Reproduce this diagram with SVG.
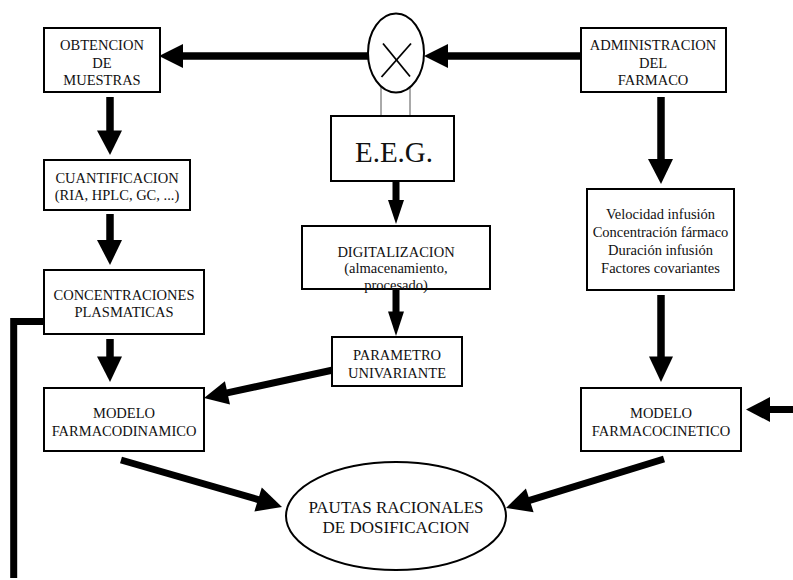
<svg xmlns="http://www.w3.org/2000/svg" width="793" height="580" viewBox="0 0 793 580">
<style>
.box{fill:#fff;stroke:#000;stroke-width:2}
.lbl{font-family:'Liberation Serif',serif;font-size:14.5px;fill:#111;text-anchor:middle}
.big{font-size:29px}
.pa{font-size:17px}
.ln{stroke:#000;stroke-width:7.5;fill:none}
.lm{stroke:#000;stroke-width:7;fill:none}
.hd{fill:#000}
.thin{stroke:#555;stroke-width:1;fill:none}
</style>
<rect width="793" height="580" fill="#fff"/>

<g id="connectors">
  <line class="ln" x1="370" y1="56" x2="182" y2="56"/>
  <polygon class="hd" points="159,56 183,44 183,68"/>
  <line class="ln" x1="584" y1="56" x2="447" y2="56"/>
  <polygon class="hd" points="424,56 448,44 448,68"/>
  <line class="thin" x1="381" y1="77" x2="381" y2="116"/>
  <line class="thin" x1="410" y1="77" x2="410" y2="116"/>
  <line class="ln" x1="110" y1="97" x2="110" y2="132"/>
  <polygon class="hd" points="110,155 97,130.5 122,130.5"/>
  <line class="ln" x1="110" y1="214" x2="110" y2="241"/>
  <polygon class="hd" points="110,265 97,240 122,240"/>
  <line class="ln" x1="110" y1="339" x2="110" y2="358"/>
  <polygon class="hd" points="110,382 97,356.5 122,356.5"/>
  <line class="lm" x1="396" y1="181" x2="396" y2="201"/>
  <polygon class="hd" points="396,224 388,200 404,200"/>
  <line class="lm" x1="396" y1="289" x2="396" y2="313"/>
  <polygon class="hd" points="396,336 388,311.5 404,311.5"/>
  <line class="ln" x1="661" y1="97" x2="661" y2="160"/>
  <polygon class="hd" points="661,184 648,159 673,159"/>
  <line class="ln" x1="661" y1="295" x2="661" y2="358"/>
  <polygon class="hd" points="661,382 649,356.5 673,356.5"/>
  <line class="lm" x1="793" y1="409.5" x2="768" y2="409.5"/>
  <polygon class="hd" points="746,409.5 770,397 770,422"/>
  <line class="lm" x1="333" y1="370" x2="226" y2="393.2"/>
  <polygon class="hd" points="204,398 230,404.6 224.9,381.2"/>
  <line class="lm" x1="121" y1="460" x2="259" y2="499.8"/>
  <polygon class="hd" points="282,507 254.4,511.4 261.8,487.6"/>
  <line class="lm" x1="664" y1="459" x2="528" y2="500.8"/>
  <polygon class="hd" points="506,508 533.6,512.2 525.9,488.4"/>
  <polyline class="lm" points="47,321.5 13.7,321.5 13.7,578" stroke-linejoin="miter"/>
</g>

<g id="multiplier">
  <ellipse cx="396" cy="53" rx="28" ry="39.5" fill="#fff" stroke="#000" stroke-width="2"/>
  <line x1="383" y1="43.5" x2="410" y2="76.5" stroke="#000" stroke-width="1.8"/>
  <line x1="411" y1="43.5" x2="381.5" y2="77" stroke="#000" stroke-width="1.8"/>
</g>

<g id="obtencion">
  <rect class="box" x="44" y="28" width="116" height="64"/>
  <text class="lbl" x="102" y="50">OBTENCION</text>
  <text class="lbl" x="102" y="68">DE</text>
  <text class="lbl" x="102" y="85">MUESTRAS</text>
</g>

<g id="administracion">
  <rect class="box" x="581" y="28" width="145" height="64"/>
  <text class="lbl" x="653" y="50">ADMINISTRACION</text>
  <text class="lbl" x="653" y="68">DEL</text>
  <text class="lbl" x="653" y="85">FARMACO</text>
</g>

<g id="eeg">
  <rect class="box" x="331" y="116" width="123" height="65"/>
  <text class="lbl big" x="394" y="161.5">E.E.G.</text>
</g>

<g id="cuantificacion">
  <rect class="box" x="44" y="160" width="146" height="50"/>
  <text class="lbl" x="117" y="183">CUANTIFICACION</text>
  <text class="lbl" x="117" y="199.5">(RIA, HPLC, GC, ...)</text>
</g>

<g id="digitalizacion">
  <rect class="box" x="302" y="226" width="188" height="63"/>
  <text class="lbl" x="396" y="256.5">DIGITALIZACION</text>
  <text class="lbl" x="396" y="273">(almacenamiento,</text>
  <text class="lbl" x="396" y="290">procesado)</text>
</g>

<g id="velocidad">
  <rect class="box" x="587" y="189" width="147" height="101"/>
  <text class="lbl" x="660.5" y="218.5">Velocidad infusión</text>
  <text class="lbl" x="660.5" y="236.5">Concentración fármaco</text>
  <text class="lbl" x="660.5" y="254.5">Duración infusión</text>
  <text class="lbl" x="660.5" y="272.5">Factores covariantes</text>
</g>

<g id="concentraciones">
  <rect class="box" x="44" y="270" width="160" height="64"/>
  <text class="lbl" x="124" y="300">CONCENTRACIONES</text>
  <text class="lbl" x="124" y="316.5">PLASMATICAS</text>
</g>

<g id="parametro">
  <rect class="box" x="332" y="337" width="130" height="49"/>
  <text class="lbl" x="397" y="359.5">PARAMETRO</text>
  <text class="lbl" x="397" y="377.5">UNIVARIANTE</text>
</g>

<g id="modelo-fd">
  <rect class="box" x="44" y="388" width="160" height="63"/>
  <text class="lbl" x="124" y="417.5">MODELO</text>
  <text class="lbl" x="124" y="435.5">FARMACODINAMICO</text>
</g>

<g id="modelo-fc">
  <rect class="box" x="581" y="388" width="160" height="63"/>
  <text class="lbl" x="661" y="417.5">MODELO</text>
  <text class="lbl" x="661" y="435.5">FARMACOCINETICO</text>
</g>

<g id="pautas">
  <ellipse cx="396" cy="516" rx="110" ry="54" fill="#fff" stroke="#000" stroke-width="2"/>
  <text class="lbl pa" x="396" y="513">PAUTAS RACIONALES</text>
  <text class="lbl pa" x="396" y="533">DE DOSIFICACION</text>
</g>
</svg>
